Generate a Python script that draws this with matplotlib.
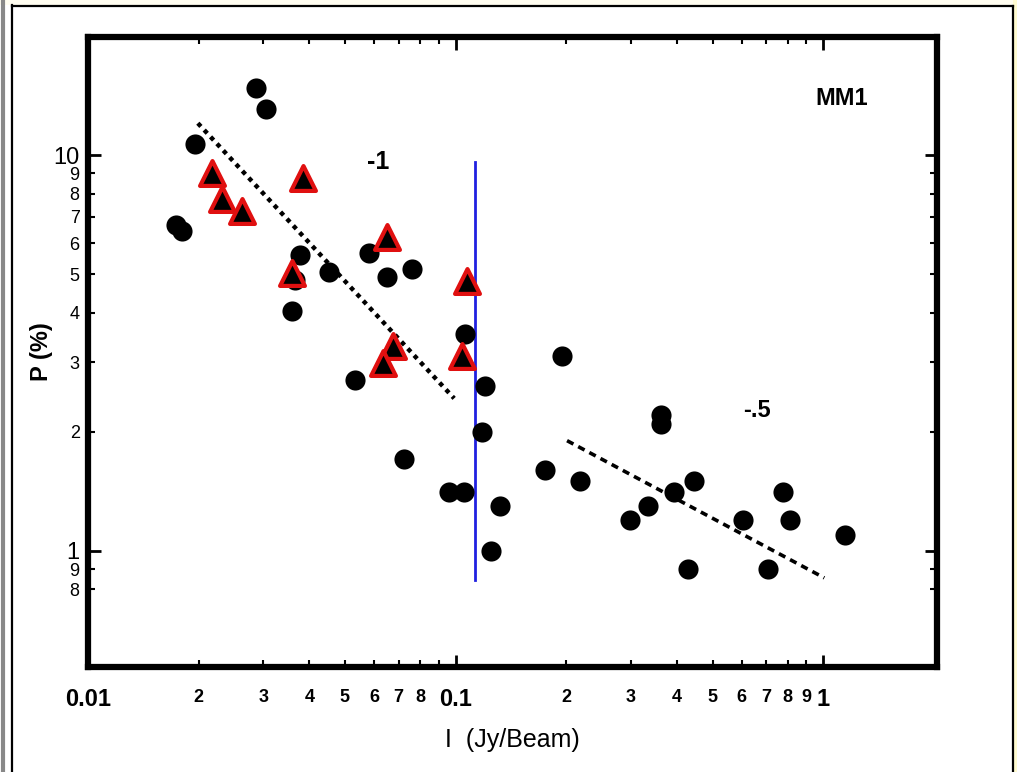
import matplotlib
matplotlib.use("Agg")
import matplotlib.pyplot as plt
from matplotlib.patches import Rectangle
from matplotlib.lines import Line2D

# ---- data ----
circ_I = [0.01736, 0.0180, 0.01955, 0.02866, 0.0305, 0.0377, 0.0366, 0.0359, 0.0453,
          0.0582, 0.0651, 0.0762, 0.0533, 0.0724, 0.0960, 0.1055, 0.1062, 0.1203,
          0.118, 0.1321, 0.125, 0.195, 0.175, 0.218, 0.2985, 0.334, 0.362, 0.362,
          0.393, 0.446, 0.4295, 0.605, 0.708, 0.778, 0.813, 1.148]
circ_P = [6.65, 6.43, 10.7, 14.8, 13.1, 5.59, 4.83, 4.04, 5.06,
          5.65, 4.92, 5.15, 2.70, 1.71, 1.41, 1.41, 3.53, 2.61,
          2.00, 1.30, 1.00, 3.11, 1.60, 1.50, 1.20, 1.30, 2.20, 2.09,
          1.41, 1.50, 0.90, 1.20, 0.90, 1.41, 1.20, 1.10]
tri_I = [0.02175, 0.02315, 0.02624, 0.03846, 0.0359, 0.0651, 0.0676, 0.0635, 0.1075, 0.1041]
tri_P = [9.01, 7.74, 7.22, 8.75, 5.03, 6.21, 3.29, 2.98, 4.81, 3.11]

fit1_I = [0.0199, 0.0991]
fit1_P = [12.05, 2.43]
fit2_I = [0.201, 1.007]
fit2_P = [1.90, 0.855]
split_I = [0.113, 0.113]
split_P = [0.845, 9.6]

x_major = [0.01, 0.1, 1]
x_major_labels = ["0.01", "0.1", "1"]
x_minor = [0.02, 0.03, 0.04, 0.05, 0.06, 0.07, 0.08, 0.09,
           0.2, 0.3, 0.4, 0.5, 0.6, 0.7, 0.8, 0.9]
x_minor_labels = ["2", "3", "4", "5", "6", "7", "8", "",
                  "2", "3", "4", "5", "6", "7", "8", "9"]
y_major = [1, 10]
y_major_labels = ["1", "10"]
y_minor = [0.8, 0.9, 2, 3, 4, 5, 6, 7, 8, 9]
y_minor_labels = ["8", "9", "2", "3", "4", "5", "6", "7", "8", "9"]

W, H = 1017, 772
fig = plt.figure(figsize=(W / 100, H / 100), dpi=100)
fig.patch.set_facecolor("white")
plt.rcParams['font.family'] = ['Liberation Sans', 'DejaVu Sans']

# outer frame decoration
fig.patches.append(Rectangle((0, 1 - 5 / H), 1, 5 / H, transform=fig.transFigure,
                             facecolor="#fffdf0", edgecolor="none", zorder=0))
fig.patches.append(Rectangle((1013 / W, 0), 4 / W, 1, transform=fig.transFigure,
                             facecolor="#fffbd0", edgecolor="none", zorder=0))
fig.lines.append(Line2D([3 / W, 3 / W], [0, 1], transform=fig.transFigure,
                        color="#888888", lw=3))
fig.lines.append(Line2D([11.5 / W, 11.5 / W], [0, 1 - 5 / H], transform=fig.transFigure,
                        color="black", lw=1.6))
fig.lines.append(Line2D([11.5 / W, 1012.5 / W], [1 - 5.5 / H, 1 - 5.5 / H],
                        transform=fig.transFigure, color="black", lw=1.6))
fig.lines.append(Line2D([1012.5 / W, 1012.5 / W], [0, 1 - 5.5 / H],
                        transform=fig.transFigure, color="black", lw=1.6))

ax = fig.add_axes([88 / W, 1 - 667 / H, (937 - 88) / W, (667 - 37) / H])
ax.set_xscale("log")
ax.set_yscale("log")
ax.set_xlim(0.01, 2.04)
ax.set_ylim(0.509, 19.9)

ax.plot(fit1_I, fit1_P, color="black", lw=3.2, linestyle=(0, (1, 1.1)), zorder=2)
ax.plot(fit2_I, fit2_P, color="black", lw=2.6, linestyle=(0, (2, 1.5)), zorder=2)
ax.plot(split_I, split_P, color="#2020e0", lw=2, zorder=3)

ax.scatter(circ_I, circ_P, s=210, color="black", zorder=4, linewidths=0)
ax.scatter(tri_I, tri_P, s=320, marker="^", facecolor="black", edgecolor="#e01010",
           linewidths=3, zorder=5)

ax.text(0.0615, 9.6, "-1", fontsize=18, fontweight="bold", ha="center", va="center")
ax.text(0.661, 2.27, "-.5", fontsize=17, fontweight="bold", ha="center", va="center")
ax.text(1.12, 13.9, "MM1", fontsize=17, fontweight="bold", ha="center", va="center")

for s in ax.spines.values():
    s.set_linewidth(4.5)

ax.set_xticks(x_major, labels=x_major_labels)
ax.set_xticks(x_minor, labels=x_minor_labels, minor=True)
ax.set_yticks(y_major, labels=y_major_labels)
ax.set_yticks(y_minor, labels=y_minor_labels, minor=True)

ax.tick_params(axis="both", which="both", direction="in", top=True, right=True, color="black")
ax.tick_params(axis="both", which="major", length=9, width=2)
ax.tick_params(axis="both", which="minor", length=5, width=1.5)
ax.tick_params(axis="x", which="major", labelsize=17, pad=15)
ax.tick_params(axis="x", which="minor", labelsize=13, pad=22)
ax.tick_params(axis="y", which="major", labelsize=17, pad=6)
ax.tick_params(axis="y", which="minor", labelsize=13, pad=6)
for lab in ax.get_xticklabels(which="both"):
    lab.set_fontweight("bold")
for lab in ax.get_xticklabels(which="minor"):
    lab.set_va("center")

ax.set_xlabel("I  (Jy/Beam)", fontsize=18, labelpad=12)
ax.set_ylabel("P (%)", fontsize=17, fontweight="bold", labelpad=0)

fig.savefig("out.png", dpi=100)
